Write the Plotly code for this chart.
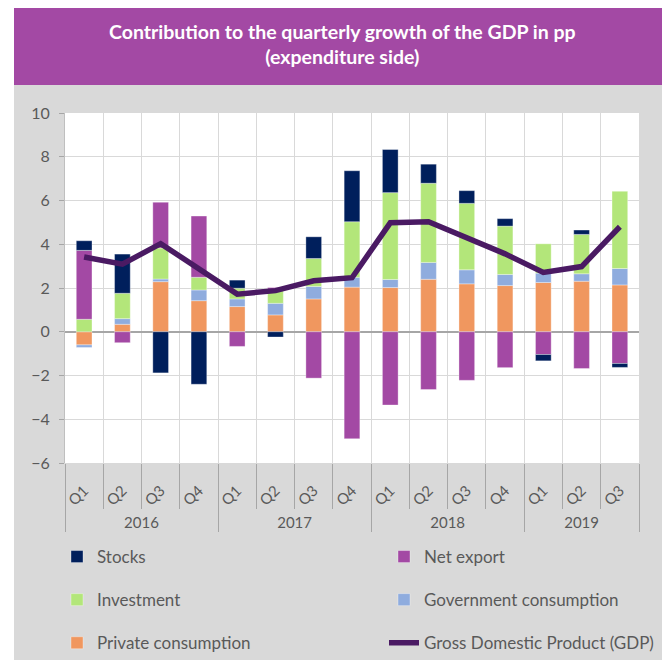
import plotly.graph_objects as go

years = ["2016"] * 4 + ["2017"] * 4 + ["2018"] * 4 + ["2019"] * 3
quarters = ["Q1", "Q2", "Q3", "Q4"] * 3 + ["Q1", "Q2", "Q3"]

private_consumption = [-0.60, 0.34, 2.29, 1.42, 1.15, 0.77, 1.50, 2.04, 2.02, 2.40, 2.19, 2.11, 2.25, 2.31, 2.14]
government_consumption = [-0.12, 0.26, 0.12, 0.49, 0.35, 0.53, 0.57, 0.45, 0.37, 0.77, 0.64, 0.51, 0.43, 0.34, 0.75]
investment = [0.57, 1.16, 1.42, 0.58, 0.49, 0.60, 1.28, 2.54, 3.97, 3.62, 3.04, 2.21, 1.34, 1.80, 3.53]
net_export = [3.15, -0.50, 2.09, 2.80, -0.67, 0.12, -2.12, -4.89, -3.35, -2.64, -2.22, -1.64, -1.04, -1.68, -1.45]
stocks = [0.44, 1.79, -1.88, -2.40, 0.37, -0.24, 0.99, 2.33, 1.97, 0.87, 0.58, 0.34, -0.29, 0.20, -0.18]
gdp = [3.42, 3.09, 4.03, 2.90, 1.72, 1.88, 2.33, 2.47, 4.98, 5.03, 4.28, 3.56, 2.71, 2.98, 4.80]

y_ticks = [-6, -4, -2, 0, 2, 4, 6, 8, 10]

title_lines = ["Contribution to the quarterly growth of the GDP in pp", "(expenditure side)"]

# figure is drawn 8px in from the page corner (body margin); positions below are figure px
W, H = 670, 660
ML, MR, MT, MB = 57, 39, 105, 205
PW, PH = W - ML - MR, H - MT - MB

def px_x(p):
    return (p - ML) / PW

def px_y(p):
    return (H - MB - p) / PH

FONT = "Lato, 'Open Sans', sans-serif"
TXT = "#595959"
x = [years, quarters]

fig = go.Figure()
series = [
    ("Private consumption", private_consumption, "#F0975F", "legend", 3),
    ("Government consumption", government_consumption, "#8FACDE", "legend2", 2),
    ("Investment", investment, "#B3E67A", "legend", 2),
    ("Net export", net_export, "#A349A4", "legend2", 1),
    ("Stocks", stocks, "#001F5C", "legend", 1),
]
for name, vals, col, lg, rank in series:
    fig.add_trace(go.Bar(
        x=x, y=vals, name=name,
        marker=dict(color=col, line=dict(width=0.6, color="rgba(255,255,255,0.55)")),
        legend=lg, legendgroup=name, legendrank=rank,
    ))
fig.add_trace(go.Scatter(
    x=x, y=gdp, name="Gross Domestic Product (GDP)", mode="lines",
    line=dict(color="#4A1A63", width=5.5), legend="legend2",
    legendgroup="gdp", legendrank=3,
))

legend_common = dict(
    orientation="v", xanchor="left", yanchor="top",
    xref="container", yref="container", y=1 - 531 / H,
    font=dict(family=FONT, size=17, color=TXT), tracegroupgap=18,
    bgcolor="rgba(0,0,0,0)", traceorder="grouped",
)

fig.update_layout(
    width=W, height=H,
    margin=dict(l=ML, r=MR, t=MT, b=MB, autoexpand=False),
    paper_bgcolor="#D9D9D9", plot_bgcolor="white",
    barmode="relative", bargap=0.59,
    showlegend=True,
    legend=dict(legend_common, x=49 / W),
    legend2=dict(legend_common, x=376 / W),
    font=dict(family=FONT, color=TXT),
    xaxis=dict(
        type="multicategory", tickson="boundaries", ticks="outside", ticklen=45,
        tickcolor="#A6A6A6", tickangle=-45, showgrid=True, gridcolor="#D9D9D9",
        showdividers=True, dividercolor="#A6A6A6", dividerwidth=1,
        tickfont=dict(family=FONT, size=15, color=TXT), ticklabelstandoff=15,
        showline=False, zeroline=False, automargin=False,
    ),
    yaxis=dict(
        range=[-6, 10], tickvals=y_ticks, ticks="outside", ticklen=5, tickcolor="#A6A6A6",
        showline=True, linecolor="#BFBFBF", gridcolor="#D9D9D9", gridwidth=1,
        zeroline=True, zerolinecolor="#A6A6A6", zerolinewidth=1.5,
        tickfont=dict(family=FONT, size=16, color=TXT), ticklabelstandoff=6,
        automargin=False,
    ),
    shapes=[
        dict(type="rect", xref="paper", yref="paper", x0=px_x(0), x1=px_x(6), y0=px_y(0), y1=px_y(H),
             fillcolor="white", line=dict(width=0), layer="below"),
        dict(type="rect", xref="paper", yref="paper", x0=px_x(6), x1=px_x(W), y0=px_y(0), y1=px_y(77),
             fillcolor="#A349A4", line=dict(width=0), layer="below"),
    ],
    annotations=[
        dict(text="<b>" + "<br>".join(title_lines) + "</b>", xref="paper", yref="paper",
             x=px_x(334), y=px_y(36), xanchor="center", yanchor="middle", showarrow=False,
             font=dict(family=FONT, size=19.5, color="white")),
    ],
)

fig.write_html("out.html")
